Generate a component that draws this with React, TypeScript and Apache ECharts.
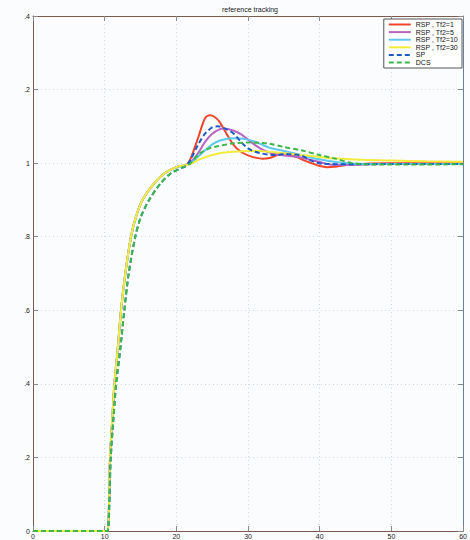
import React, { useEffect, useRef } from "react";
import * as echarts from "echarts";

// ---- data ----
const xTicks = [0, 10, 20, 30, 40, 50, 60];
const yTickLabels = ["0", ".2", ".4", ".6", ".8", "1", ".2", ".4"];
const legendNames = ["RSP , Tf2=1", "RSP , Tf2=5", "RSP , Tf2=10", "RSP , Tf2=30", "SP", "DCS"];

// shared first response (all RSP curves)
const rspRise: number[][] = [
  [0, 0], [10, 0], [10.4, 0], [10.75, 0.2], [11.05, 0.3], [11.36, 0.4], [11.8, 0.49],
  [12.28, 0.6], [12.88, 0.7], [13.67, 0.8], [14.36, 0.854], [15.28, 0.9], [16.9, 0.945],
  [18.3, 0.972], [20.1, 0.99], [21.4, 0.995],
];
// shared first response (SP and DCS)
const spRise: number[][] = [
  [0, 0], [10, 0], [10.4, 0], [10.85, 0.2], [11.2, 0.3], [11.6, 0.4], [12.15, 0.49],
  [12.74, 0.6], [13.35, 0.7], [14.27, 0.8], [15.05, 0.854], [16.2, 0.9], [17.8, 0.945],
  [19.2, 0.972], [20.6, 0.986], [21.4, 0.993],
];

const tailTf1: number[][] = [
  [22, 1.013], [23, 1.067], [24, 1.122], [24.7, 1.13], [25.3, 1.126], [26, 1.113],
  [27, 1.08], [28, 1.049], [29, 1.031], [30, 1.021], [31, 1.015], [32, 1.012],
  [33, 1.014], [34, 1.021], [35, 1.026], [36, 1.022], [37, 1.015], [38, 1.006],
  [39, 0.999], [40, 0.992], [41, 0.989], [42, 0.99], [43, 0.993], [44.5, 0.996],
  [47, 0.999], [50, 1.0], [55, 1.0], [60, 1.0],
];
const tailTf5: number[][] = [
  [22, 1.002], [23, 1.026], [24, 1.058], [25, 1.08], [26, 1.092], [26.6, 1.094],
  [28, 1.088], [29, 1.079], [30, 1.064], [31, 1.049], [32, 1.037], [33, 1.029],
  [34.5, 1.022], [36, 1.019], [37.5, 1.015], [38.5, 1.01], [40, 1.003], [41, 0.998],
  [42, 0.995], [44, 0.995], [47, 0.997], [52, 0.998], [60, 0.998],
];
const tailTf10: number[][] = [
  [22, 0.999], [23, 1.017], [24, 1.035], [25, 1.051], [26, 1.061], [27.7, 1.068],
  [29, 1.067], [30, 1.064], [31, 1.058], [32, 1.05], [33, 1.042], [35, 1.033],
  [37.4, 1.022], [39.7, 1.011], [42, 1.004], [44.4, 0.999], [47, 0.998], [60, 0.998],
];
const tailTf30: number[][] = [
  [22, 0.998], [23, 1.008], [24, 1.016], [25, 1.022], [26, 1.027], [28, 1.031],
  [30, 1.033], [32, 1.032], [34, 1.029], [37, 1.023], [40, 1.017], [42, 1.013],
  [46, 1.009], [50, 1.007], [55, 1.005], [60, 1.004],
];
const tailSP: number[][] = [
  [22, 1.01], [23, 1.049], [24, 1.08], [25, 1.097], [25.8, 1.1], [27, 1.092],
  [28, 1.08], [29, 1.058], [30, 1.04], [31, 1.031], [32, 1.026], [33, 1.023],
  [34, 1.022], [35, 1.025], [36, 1.024], [37.5, 1.02], [38.5, 1.01], [39.5, 1.002],
  [40.5, 0.998], [45, 0.997], [52, 0.998], [60, 0.998],
];
const tailDCS: number[][] = [
  [22, 1.0], [23, 1.022], [24, 1.035], [25, 1.043], [26, 1.047], [28, 1.054],
  [30, 1.056], [32, 1.055], [33, 1.053], [35, 1.044], [37.4, 1.035], [40, 1.022],
  [42, 1.013], [44.3, 1.001], [46, 0.997], [52, 0.996], [60, 0.997],
];

const seriesColors = ["#f2452a", "#b764c2", "#5ec9ea", "#f3ec3c", "#1f5bc4", "#3cb84a"];
const seriesDashed = [false, false, false, false, true, true];

export default function App() {
  const ref = useRef<HTMLDivElement>(null);
  useEffect(() => {
    if (!ref.current) return;
    const chart = echarts.init(ref.current, undefined, { renderer: "svg" });
    const datas = [
      rspRise.concat(tailTf1),
      rspRise.concat(tailTf5),
      rspRise.concat(tailTf10),
      rspRise.concat(tailTf30),
      spRise.concat(tailSP),
      spRise.concat(tailDCS),
    ];
    const font = "'Liberation Sans', Arial, sans-serif";
    const axisColor = "#7d5a4f";
    const series = legendNames.map((name, i) => ({
      name,
      type: "line",
      data: datas[i],
      symbol: "none",
      smooth: 0.3,
      lineStyle: {
        color: seriesColors[i],
        width: 2,
        type: seriesDashed[i] ? [5, 3] : "solid",
      },
      itemStyle: { color: seriesColors[i] },
    }));
    chart.setOption({
      animation: false,
      backgroundColor: "#fbfcfe",
      grid: { left: 33, right: 4, top: 16, bottom: 9, containLabel: false },
      graphic: [
        {
          type: "text",
          x: 250,
          y: 9,
          style: {
            text: "reference tracking",
            fontSize: 7,
            fontFamily: font,
            fill: "#222",
            textAlign: "center",
            textVerticalAlign: "middle",
          },
        },
      ],
      legend: {
        orient: "vertical",
        right: 8,
        top: 19,
        itemWidth: 22,
        itemHeight: 7,
        itemGap: 0.6,
        itemTextGap: 4,
        padding: [2, 4, 2, 4],
        borderColor: "#555",
        borderWidth: 1,
        backgroundColor: "#ffffff",
        borderRadius: 0,
        itemStyle: { opacity: 0 },
        textStyle: { fontSize: 7, fontFamily: font, color: "#111" },
        data: legendNames,
      },
      xAxis: [
        {
          type: "value",
          min: xTicks[0],
          max: xTicks[xTicks.length - 1],
          interval: 10,
          axisLine: { show: true, onZero: false, lineStyle: { color: axisColor, width: 1 } },
          axisTick: { show: true, inside: true, length: 5, lineStyle: { color: "#888" } },
          axisLabel: { fontSize: 7, fontFamily: font, color: "#222", margin: 2 },
          splitLine: { show: true, lineStyle: { color: "#cfd9e4", type: [1, 3] } },
        },
        {
          type: "value",
          position: "top",
          min: xTicks[0],
          max: xTicks[xTicks.length - 1],
          interval: 10,
          axisLine: { show: true, onZero: false, lineStyle: { color: axisColor, width: 1 } },
          axisTick: { show: true, inside: true, length: 5, lineStyle: { color: "#888" } },
          axisLabel: { show: false },
          splitLine: { show: false },
        },
      ],
      yAxis: [
        {
          type: "value",
          min: 0,
          max: 1.4,
          interval: 0.2,
          axisLine: { show: true, onZero: false, lineStyle: { color: axisColor, width: 1 } },
          axisTick: { show: true, inside: true, length: 5, lineStyle: { color: "#888" } },
          axisLabel: {
            fontSize: 7,
            fontFamily: font,
            color: "#222",
            margin: 3,
            formatter: (v: number) => yTickLabels[Math.round(v / 0.2)] ?? "",
          },
          splitLine: { show: true, lineStyle: { color: "#cfd9e4", type: [1, 3] } },
        },
        {
          type: "value",
          position: "right",
          min: 0,
          max: 1.4,
          interval: 0.2,
          axisLine: { show: true, onZero: false, lineStyle: { color: "#6d7f96", width: 1 } },
          axisTick: { show: true, inside: true, length: 5, lineStyle: { color: "#888" } },
          axisLabel: { show: false },
          splitLine: { show: false },
        },
      ],
      series,
    });
    return () => chart.dispose();
  }, []);
  return (
    <div
      style={{ position: "absolute", left: 0, top: 0, width: 470, height: 540, background: "#fbfcfe" }}
    >
      <div ref={ref} style={{ width: 470, height: 540 }} />
    </div>
  );
}
